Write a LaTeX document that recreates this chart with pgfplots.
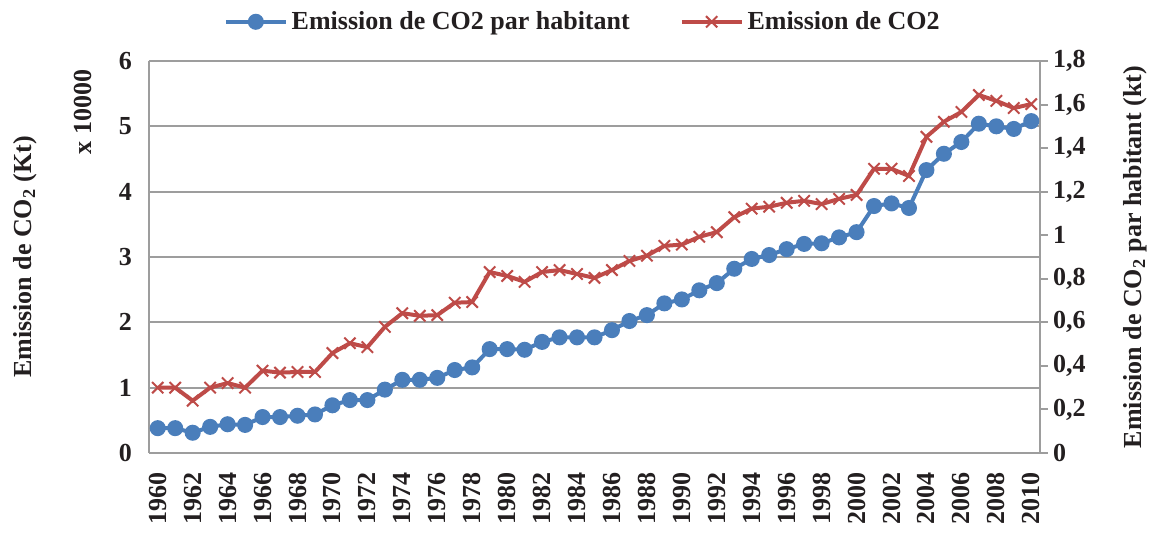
\documentclass[border=0pt]{standalone}
\usepackage{fontspec}
\setmainfont{Liberation Serif}
\usepackage{pgfplots}
\usepackage{pgfplotstable}
\pgfplotsset{compat=1.18}

\definecolor{serieBlue}{HTML}{4A7EBB}
\definecolor{serieRed}{HTML}{BE4B48}
\definecolor{gridGray}{HTML}{9D9D9D}
\definecolor{textInk}{HTML}{231F20}

% emission totale, en x 10000 Kt
\pgfplotstableread{
year co2
1960 1.00
1961 1.00
1962 0.80
1963 1.00
1964 1.07
1965 1.00
1966 1.26
1967 1.23
1968 1.24
1969 1.24
1970 1.53
1971 1.68
1972 1.62
1973 1.93
1974 2.14
1975 2.10
1976 2.11
1977 2.30
1978 2.31
1979 2.77
1980 2.71
1981 2.62
1982 2.77
1983 2.80
1984 2.74
1985 2.68
1986 2.80
1987 2.94
1988 3.02
1989 3.17
1990 3.19
1991 3.31
1992 3.38
1993 3.61
1994 3.74
1995 3.77
1996 3.83
1997 3.86
1998 3.81
1999 3.89
2000 3.95
2001 4.35
2002 4.35
2003 4.24
2004 4.84
2005 5.07
2006 5.22
2007 5.48
2008 5.39
2009 5.28
2010 5.34
}\tableco

% emission par habitant, kt
\pgfplotstableread{
year hab
1960 0.114
1961 0.114
1962 0.093
1963 0.120
1964 0.132
1965 0.129
1966 0.165
1967 0.165
1968 0.171
1969 0.177
1970 0.219
1971 0.243
1972 0.243
1973 0.291
1974 0.336
1975 0.336
1976 0.345
1977 0.381
1978 0.393
1979 0.477
1980 0.477
1981 0.474
1982 0.510
1983 0.531
1984 0.531
1985 0.531
1986 0.564
1987 0.606
1988 0.633
1989 0.687
1990 0.705
1991 0.747
1992 0.780
1993 0.846
1994 0.891
1995 0.909
1996 0.936
1997 0.960
1998 0.963
1999 0.990
2000 1.014
2001 1.134
2002 1.146
2003 1.125
2004 1.299
2005 1.374
2006 1.428
2007 1.512
2008 1.500
2009 1.488
2010 1.524
}\tablehab

\newcommand{\chartfont}{\bfseries\fontsize{13}{15}\selectfont}

\pgfplotsset{
  baseAxis/.style={
    scale only axis,
    width=445.5pt,
    height=196pt,
    xmin=1959.5, xmax=2010.5,
    axis line style={draw=gridGray, line width=1pt},
    tick style={draw=gridGray, line width=1pt},
    tick label style={font=\chartfont, text=textInk},
    label style={font=\chartfont, text=textInk},
    /pgf/number format/assume math mode=true,
    /pgf/number format/1000 sep={},
  },
  redLine/.style={color=serieRed, line width=2pt, mark=x, mark size=4pt,
    mark options={line width=1pt}},
  blueLine/.style={color=serieBlue, line width=2pt, mark=*, mark size=3pt},
}

\begin{document}
\begin{tikzpicture}
  \useasboundingbox (-74.5pt,-40.5pt) rectangle (501.5pt,226.5pt);
  \begin{axis}[
    baseAxis,
    clip=false,
    ymin=0, ymax=6,
    axis x line*=bottom,
    axis y line*=left,
    major tick length=0pt,
    xtick={1960,1962,...,2010},
    x tick label style={rotate=90, anchor=east},
    xticklabel shift=6pt,
    ytick={0,1,2,3,4,5,6},
    yticklabel shift=5pt,
    ymajorgrids,
    major grid style={draw=gridGray, line width=1pt},
    ylabel={Emission de CO\textsubscript{2} (Kt)},
    ylabel style={at={(rel axis cs:-0.139,0.5)}, anchor=center},
  ]
    \addplot[redLine] table[x=year, y=co2] {\tableco};
    \node[rotate=90, font=\chartfont, text=textInk]
      at (rel axis cs:-0.074,0.87) {x 10000};
  \end{axis}
  \begin{axis}[
    baseAxis,
    ymin=0, ymax=1.8,
    axis x line=none,
    axis y line*=right,
    tick align=outside,
    major tick length=4pt,
    ytick={0,0.2,0.4,0.6,0.8,1,1.2,1.4,1.6,1.8},
    yticklabels={0,{0,2},{0,4},{0,6},{0,8},1,{1,2},{1,4},{1,6},{1,8}},
    yticklabel shift=-1pt,
    ylabel={Emission de CO\textsubscript{2} par habitant (kt)},
    ylabel style={at={(rel axis cs:1.1066,0.5)}, anchor=center},
    legend columns=2,
    legend style={
      at={(rel axis cs:0.488,1.1)}, anchor=center,
      draw=none, fill=none,
      font=\chartfont, text=textInk,
      /tikz/every even column/.append style={column sep=23pt},
    },
    legend image code/.code={
      \draw[mark repeat=2, mark phase=2, #1]
        plot coordinates {(0cm,0cm) (0.525cm,0cm) (1.05cm,0cm)};
    },
  ]
    \addplot[blueLine] table[x=year, y=hab] {\tablehab};
    \addlegendentry{Emission de CO2 par habitant}
    \addlegendimage{redLine}
    \addlegendentry{Emission de CO2}
  \end{axis}
\end{tikzpicture}
\end{document}
